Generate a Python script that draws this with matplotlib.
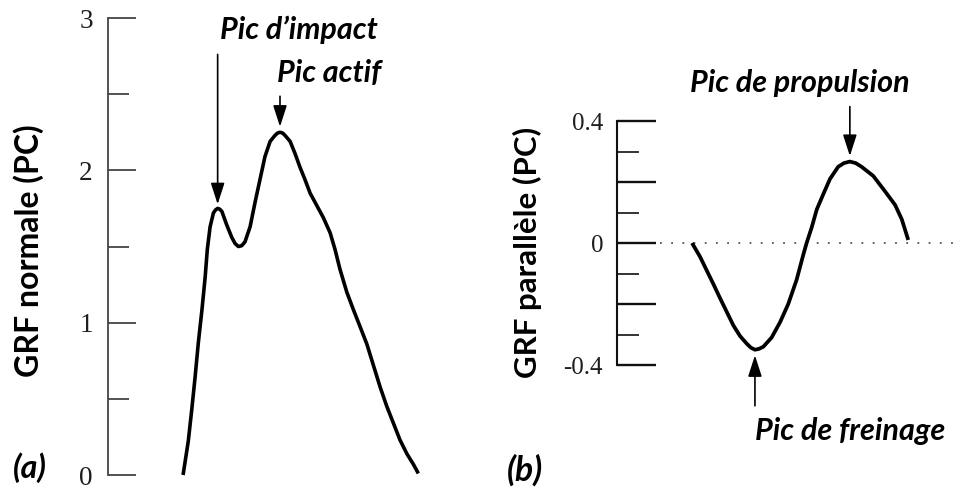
import matplotlib
matplotlib.use("Agg")
import matplotlib.pyplot as plt
from matplotlib.ticker import FixedLocator, FixedFormatter

# ---------------- data ----------------
# (a) normal ground reaction force, % of stance vs body weights
t_norm = [0, 2.2, 3.7, 5.1, 6.5, 8.0, 9.4, 10.3, 11.5, 12.9, 13.8, 14.7,
          15.6, 16.5, 18.6, 20.7, 22.1, 23.5, 24.9, 26.3, 28.5, 30.6, 32.7,
          34.8, 37.0, 39.1, 40.2, 41.2, 42.3, 43.3, 45.5, 47.6, 49.7, 51.8,
          54.0, 56.8, 59.6, 62.5, 64.6, 66.7, 69.6, 72.4, 75.2, 78.1, 80.9,
          83.7, 86.6, 89.4, 92.2, 95.1, 97.9, 100]
grf_norm = [0.00, 0.22, 0.43, 0.64, 0.87, 1.08, 1.30, 1.48, 1.63, 1.72, 1.74,
            1.75, 1.745, 1.73, 1.64, 1.56, 1.52, 1.50, 1.505, 1.53, 1.63,
            1.79, 1.94, 2.09, 2.19, 2.23, 2.245, 2.25, 2.245, 2.23, 2.19,
            2.11, 2.02, 1.94, 1.85, 1.77, 1.69, 1.59, 1.48, 1.35, 1.20, 1.085,
            0.975, 0.86, 0.72, 0.58, 0.45, 0.34, 0.23, 0.14, 0.07, 0.01]

# (b) parallel (antero-posterior) ground reaction force
t_par = [0, 3.7, 6.8, 9.9, 12.9, 16.0, 19.1, 22.2, 25.3, 27.2, 29.1, 31.0,
         33.0, 36.8, 40.7, 44.5, 48.4, 51.4, 53.0, 55.3, 57.7, 60.7, 63.8,
         67.6, 70.3, 73.0, 75.7, 78.4, 83.8, 89.2, 93.9, 97.0, 100]
grf_par = [0.00, -0.045, -0.09, -0.135, -0.18, -0.225, -0.27, -0.305, -0.33,
           -0.343, -0.35, -0.347, -0.34, -0.31, -0.26, -0.20, -0.12, -0.04,
           0.00, 0.05, 0.11, 0.16, 0.21, 0.25, 0.262, 0.267, 0.262, 0.25,
           0.22, 0.17, 0.125, 0.078, 0.01]

ticks_a_major = [0, 1, 2, 3]
ticks_a_minor = [0.5, 1.5, 2.5]
labels_a = ["0", "1", "2", "3"]
ticks_b_major = [-0.4, -0.2, 0, 0.2, 0.4]
ticks_b_minor = [-0.3, -0.1, 0.1, 0.3]
labels_b = ["-0.4", "", "0", "", "0.4"]

ylabel_a = "GRF normale (PC)"
ylabel_b = "GRF parallèle (PC)"
ann_impact = "Pic d\u2019impact"
ann_actif = "Pic actif"
ann_prop = "Pic de propulsion"
ann_frein = "Pic de freinage"

# ---------------- figure ----------------
W, H = 961, 490
fig = plt.figure(figsize=(W / 100, H / 100), dpi=100)
fig.patch.set_facecolor("white")


def fx(px):
    return px / W


def fy(py):
    return 1 - py / H


SANS = "Lato"
SERIF = "Liberation Serif"

# panel (a)
ax_a = fig.add_axes([fx(108), fy(475), (440 - 108) / W, (475 - 18) / H])
ax_a.set_ylim(0, 3)
ax_a.set_xlim(-31.9, 109.2)
ax_a.plot(t_norm, grf_norm, color="black", lw=2.6, clip_on=False,
          solid_capstyle="butt", solid_joinstyle="round")

# panel (b)
ax_b = fig.add_axes([fx(617), fy(365), (961 - 617) / W, (365 - 121) / H])
ax_b.set_ylim(-0.4, 0.4)
ax_b.set_xlim(-34.7, 124.4)
ax_b.axhline(0, xmin=(660 - 617) / (961 - 617), xmax=1, color="#555555",
             lw=1.3, linestyle=(0, (1, 5.2)), zorder=1)
ax_b.plot(t_par, grf_par, color="black", lw=2.7, clip_on=False,
          solid_capstyle="butt", solid_joinstyle="round", zorder=3)

for ax in (ax_a, ax_b):
    for s in ("top", "right", "bottom"):
        ax.spines[s].set_visible(False)
    ax.set_xticks([])
    ax.patch.set_alpha(0)

ax_a.spines["left"].set_color("#444444")
ax_a.spines["left"].set_linewidth(1.3)
ax_a.yaxis.set_major_locator(FixedLocator(ticks_a_major))
ax_a.yaxis.set_major_formatter(FixedFormatter(labels_a))
ax_a.yaxis.set_minor_locator(FixedLocator(ticks_a_minor))
ax_a.tick_params(axis="y", which="major", direction="in", length=20,
                 width=1.3, color="#444444", pad=11, labelsize=19.5,
                 labelcolor="#1e1e1e")
ax_a.tick_params(axis="y", which="minor", direction="in", length=15,
                 width=1.3, color="#444444")

ax_b.spines["left"].set_color("#111111")
ax_b.spines["left"].set_linewidth(1.5)
ax_b.yaxis.set_major_locator(FixedLocator(ticks_b_major))
ax_b.yaxis.set_major_formatter(FixedFormatter(labels_b))
ax_b.yaxis.set_minor_locator(FixedLocator(ticks_b_minor))
ax_b.tick_params(axis="y", which="major", direction="in", length=28,
                 width=1.7, color="#111111", pad=10, labelsize=18,
                 labelcolor="#1e1e1e")
ax_b.tick_params(axis="y", which="minor", direction="in", length=16,
                 width=1.2, color="#111111")

for ax in (ax_a, ax_b):
    for lab in ax.get_yticklabels():
        lab.set_fontfamily(SERIF)

# ---------------- arrows pointing at peaks ----------------
arrow_kw = dict(arrowstyle="-|>,head_length=13,head_width=4.2",
                color="black", lw=1.2, mutation_scale=1,
                shrinkA=0)

i_imp = grf_norm.index(max(grf_norm[:20]))   # impact peak
i_act = grf_norm.index(max(grf_norm))        # active peak
ax_a.annotate("", xy=(t_norm[i_imp], grf_norm[i_imp]),
              xytext=(0, 154), textcoords="offset pixels",
              arrowprops=dict(arrow_kw, shrinkB=3), annotation_clip=False)
ax_a.annotate("", xy=(t_norm[i_act], grf_norm[i_act]),
              xytext=(0, 36), textcoords="offset pixels",
              arrowprops=dict(arrow_kw, shrinkB=4), annotation_clip=False)

i_prop = grf_par.index(max(grf_par))    # propulsion peak
i_frein = grf_par.index(min(grf_par))   # braking peak
ax_b.annotate("", xy=(t_par[i_prop], grf_par[i_prop]),
              xytext=(0, 55), textcoords="offset pixels",
              arrowprops=dict(arrow_kw, shrinkB=4), annotation_clip=False)
ax_b.annotate("", xy=(t_par[i_frein], grf_par[i_frein]),
              xytext=(0, -56), textcoords="offset pixels",
              arrowprops=dict(arrow_kw, shrinkB=4), annotation_clip=False)

# ---------------- texts ----------------
renderer = fig.canvas.get_renderer()


def fit(t, target, vertical=False):
    for _ in range(3):
        bb = t.get_window_extent(renderer)
        cur = bb.height if vertical else bb.width
        t.set_fontsize(t.get_fontsize() * target / cur)


def itext(s, left, base, width):
    t = fig.text(fx(left), fy(base), s, ha="left", va="baseline",
                 family=SANS, weight="bold", style="italic", fontsize=18,
                 color="black")
    fit(t, width)
    return t


itext(ann_impact, 220, 39, 158)
itext(ann_actif, 277, 82, 104)
itext(ann_prop, 690, 92, 220)
itext(ann_frein, 755, 440, 190)
itext("(a)", 13, 478, 34)
itext("(b)", 507, 481, 36)

for s, cx, cy, L in ((ylabel_a, 29, 251, 252), (ylabel_b, 527, 252, 251)):
    t = fig.text(fx(cx), fy(cy), s, rotation=90, ha="center", va="center",
                 family=SANS, weight="bold", fontsize=20, color="black")
    fit(t, L, vertical=True)

fig.savefig("out.png", dpi=100, facecolor="white")
